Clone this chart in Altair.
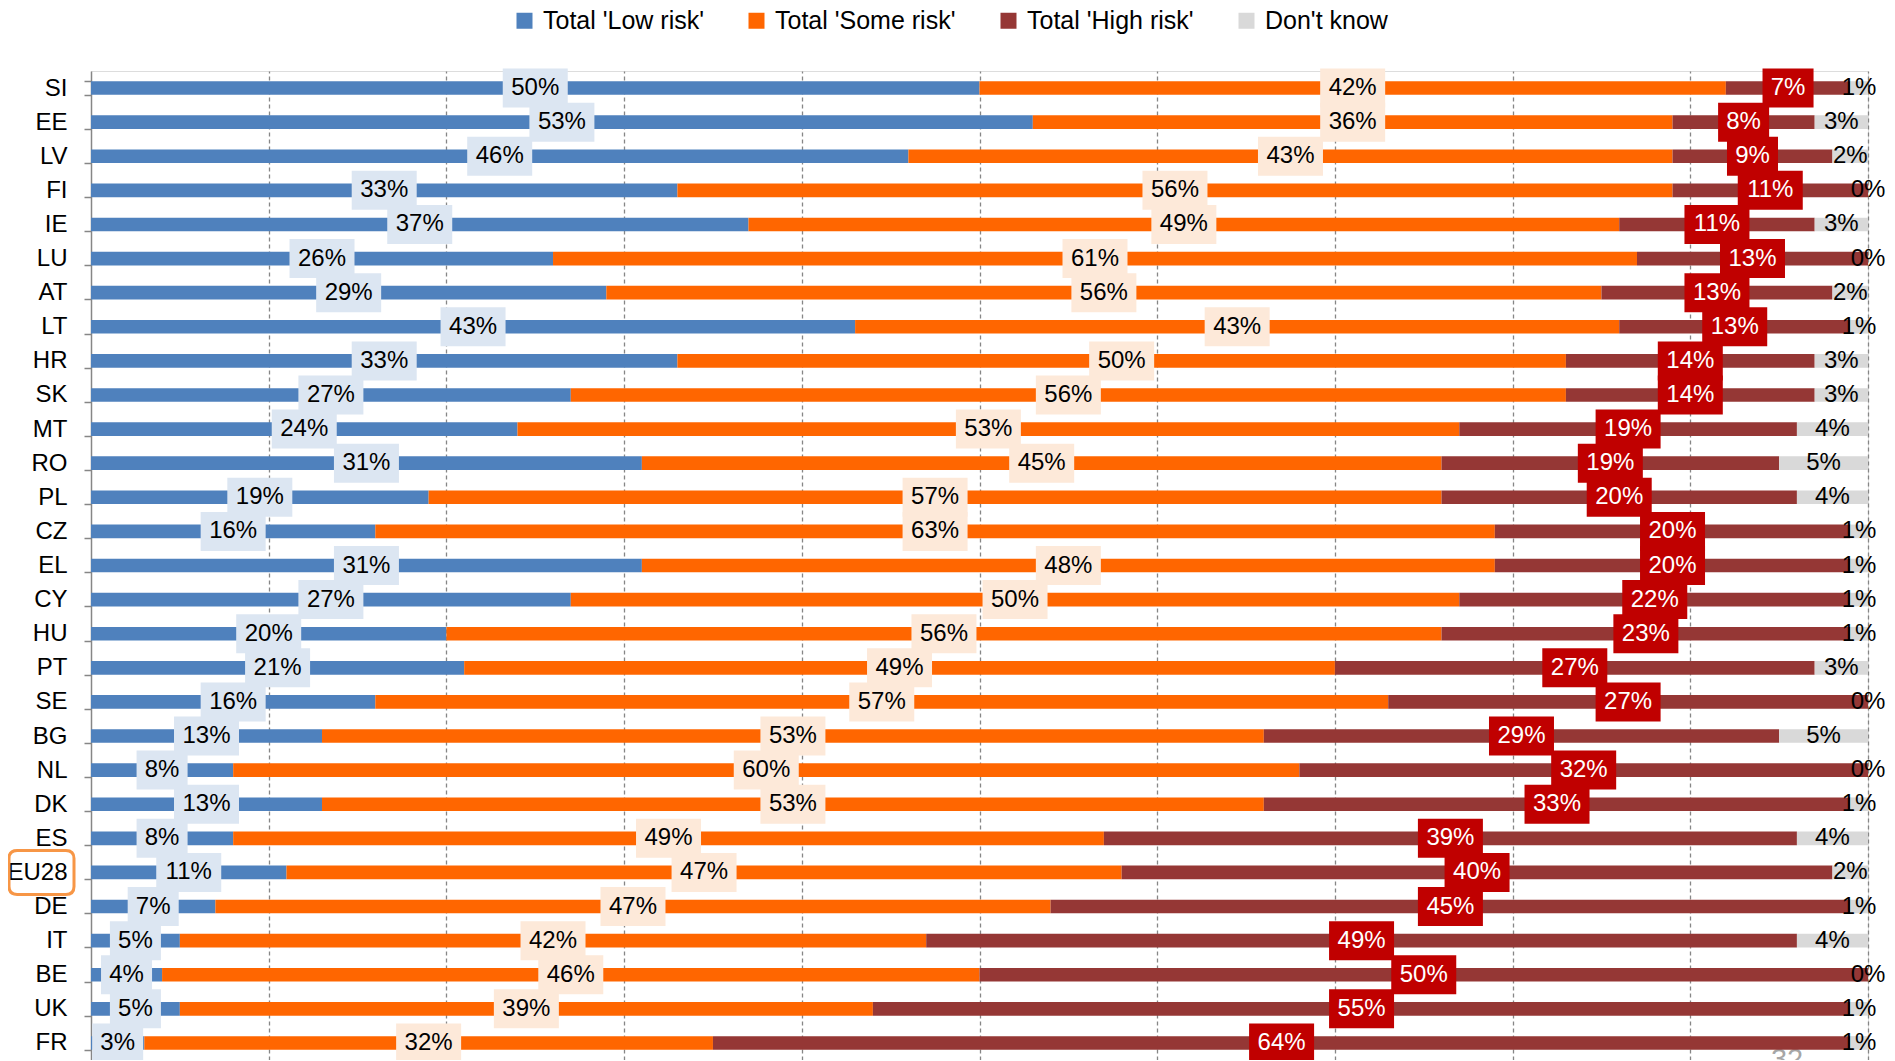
import altair as alt
import pandas as pd

countries = ["SI", "EE", "LV", "FI", "IE", "LU", "AT", "LT", "HR", "SK", "MT", "RO", "PL", "CZ",
             "EL", "CY", "HU", "PT", "SE", "BG", "NL", "DK", "ES", "EU28", "DE", "IT", "BE", "UK", "FR"]
low_risk = [50, 53, 46, 33, 37, 26, 29, 43, 33, 27, 24, 31, 19, 16, 31, 27, 20, 21, 16, 13,
            8, 13, 8, 11, 7, 5, 4, 5, 3]
some_risk = [42, 36, 43, 56, 49, 61, 56, 43, 50, 56, 53, 45, 57, 63, 48, 50, 56, 49, 57, 53,
             60, 53, 49, 47, 47, 42, 46, 39, 32]
high_risk = [7, 8, 9, 11, 11, 13, 13, 13, 14, 14, 19, 19, 20, 20, 20, 22, 23, 27, 27, 29,
             32, 33, 39, 40, 45, 49, 50, 55, 64]
dont_know = [1, 3, 2, 0, 3, 0, 2, 1, 3, 3, 4, 5, 4, 1, 1, 1, 1, 3, 0, 5,
             0, 1, 4, 2, 1, 4, 0, 1, 1]
series_names = ["Total 'Low risk'", "Total 'Some risk'", "Total 'High risk'", "Don't know"]
highlight = ["EU28"]
page_number = ["32"]

# styles
bar_colors = ["#4F81BD", "#FF6600", "#953735", "#D9D9D9"]
box_colors = ["#DCE6F2", "#FDE9D9", "#C00000"]
FONT = "Liberation Sans"

rows = []
for i, c in enumerate(countries):
    start = 0
    for s, vals in zip(series_names, [low_risk, some_risk, high_risk, dont_know]):
        v = vals[i]
        rows.append({"country": c, "series": s, "value": v, "start": start,
                     "end": start + v, "mid": start + v / 2,
                     "label": f"{v}%", "len": str(len(f"{v}%"))})
        start += v
df = pd.DataFrame(rows)

y_enc = alt.Y("country:N", sort=countries,
              scale=alt.Scale(paddingInner=0.6, paddingOuter=0.3),
              axis=alt.Axis(title=None, domainColor="#868686", domainWidth=1.5,
                            tickColor="#868686", tickWidth=1.5, tickSize=7,
                            tickBand="extent", labelFontSize=24, labelColor="black",
                            labelFont=FONT, labelPadding=17, grid=False))
x_scale = alt.Scale(domain=[0, 100], nice=False, zero=True)
x_axis = alt.Axis(title=None, labels=False, ticks=False, domain=False, grid=True,
                  gridColor="#868686", gridDash=[4, 3], gridWidth=1.3,
                  values=list(range(10, 101, 10)))

base = alt.Chart(df)

page = alt.Chart(pd.DataFrame({"t": page_number})).mark_text(
    fontSize=29, font=FONT, color="#A6A6A6", align="center", baseline="alphabetic"
).encode(x=alt.value(1696), y=alt.value(998), text="t:N")

bars = base.mark_bar().encode(
    x=alt.X("start:Q", scale=x_scale, axis=x_axis),
    x2="end:Q",
    y=y_enc,
    color=alt.Color("series:N", scale=alt.Scale(domain=series_names, range=bar_colors),
                    legend=alt.Legend(title=None, orient="none", legendX=421, legendY=-63,
                                      direction="horizontal", columns=4,
                                      symbolType="square", symbolSize=256,
                                      symbolStrokeWidth=0, labelFontSize=25,
                                      labelFont=FONT, labelColor="black",
                                      labelLimit=0, labelOffset=6, columnPadding=40)),
    order=alt.Order("start:Q"),
)

p3 = "M-1,-0.6H1V0.6H-1Z"
p2 = "M-0.785,-0.6H0.785V0.6H-0.785Z"
boxes = base.transform_filter(alt.datum.series != "Don't know").mark_point(
    filled=True, opacity=1, size=4225, strokeWidth=0
).encode(
    x=alt.X("mid:Q", scale=x_scale),
    y=alt.Y("country:N", sort=countries),
    shape=alt.Shape("len:N", scale=alt.Scale(domain=["2", "3"], range=[p2, p3]), legend=None),
    fill=alt.Fill("series:N", scale=alt.Scale(domain=series_names[:3], range=box_colors),
                  legend=None),
)

texts = base.mark_text(fontSize=24, font=FONT, baseline="middle", align="center").encode(
    x=alt.X("mid:Q", scale=x_scale),
    y=alt.Y("country:N", sort=countries),
    text="label:N",
    color=alt.condition(alt.datum.series == "Total 'High risk'", alt.value("white"),
                        alt.value("black")),
)

round_box = ("M-0.75,-0.677H0.75Q1,-0.677 1,-0.43V0.43Q1,0.677 0.75,0.677"
             "H-0.75Q-1,0.677 -1,0.43V-0.43Q-1,-0.677 -0.75,-0.677Z")
hl = alt.Chart(pd.DataFrame({"country": highlight})).mark_point(
    shape=round_box, size=4225, filled=False, stroke="#F79646", strokeWidth=3, opacity=1
).encode(
    x=alt.value(-49.5),
    y=alt.Y("country:N", sort=countries),
)

chart = alt.layer(page, bars, boxes, texts, hl).resolve_scale(fill="independent").properties(
    width=1777, height=989,
    autosize=alt.AutoSizeParams(type="none"),
    padding={"left": 83, "top": 63, "right": 18, "bottom": 0},
).configure_view(strokeWidth=0).configure(font=FONT)

chart.save("out.html", embed_options={"renderer": "svg", "actions": False})
